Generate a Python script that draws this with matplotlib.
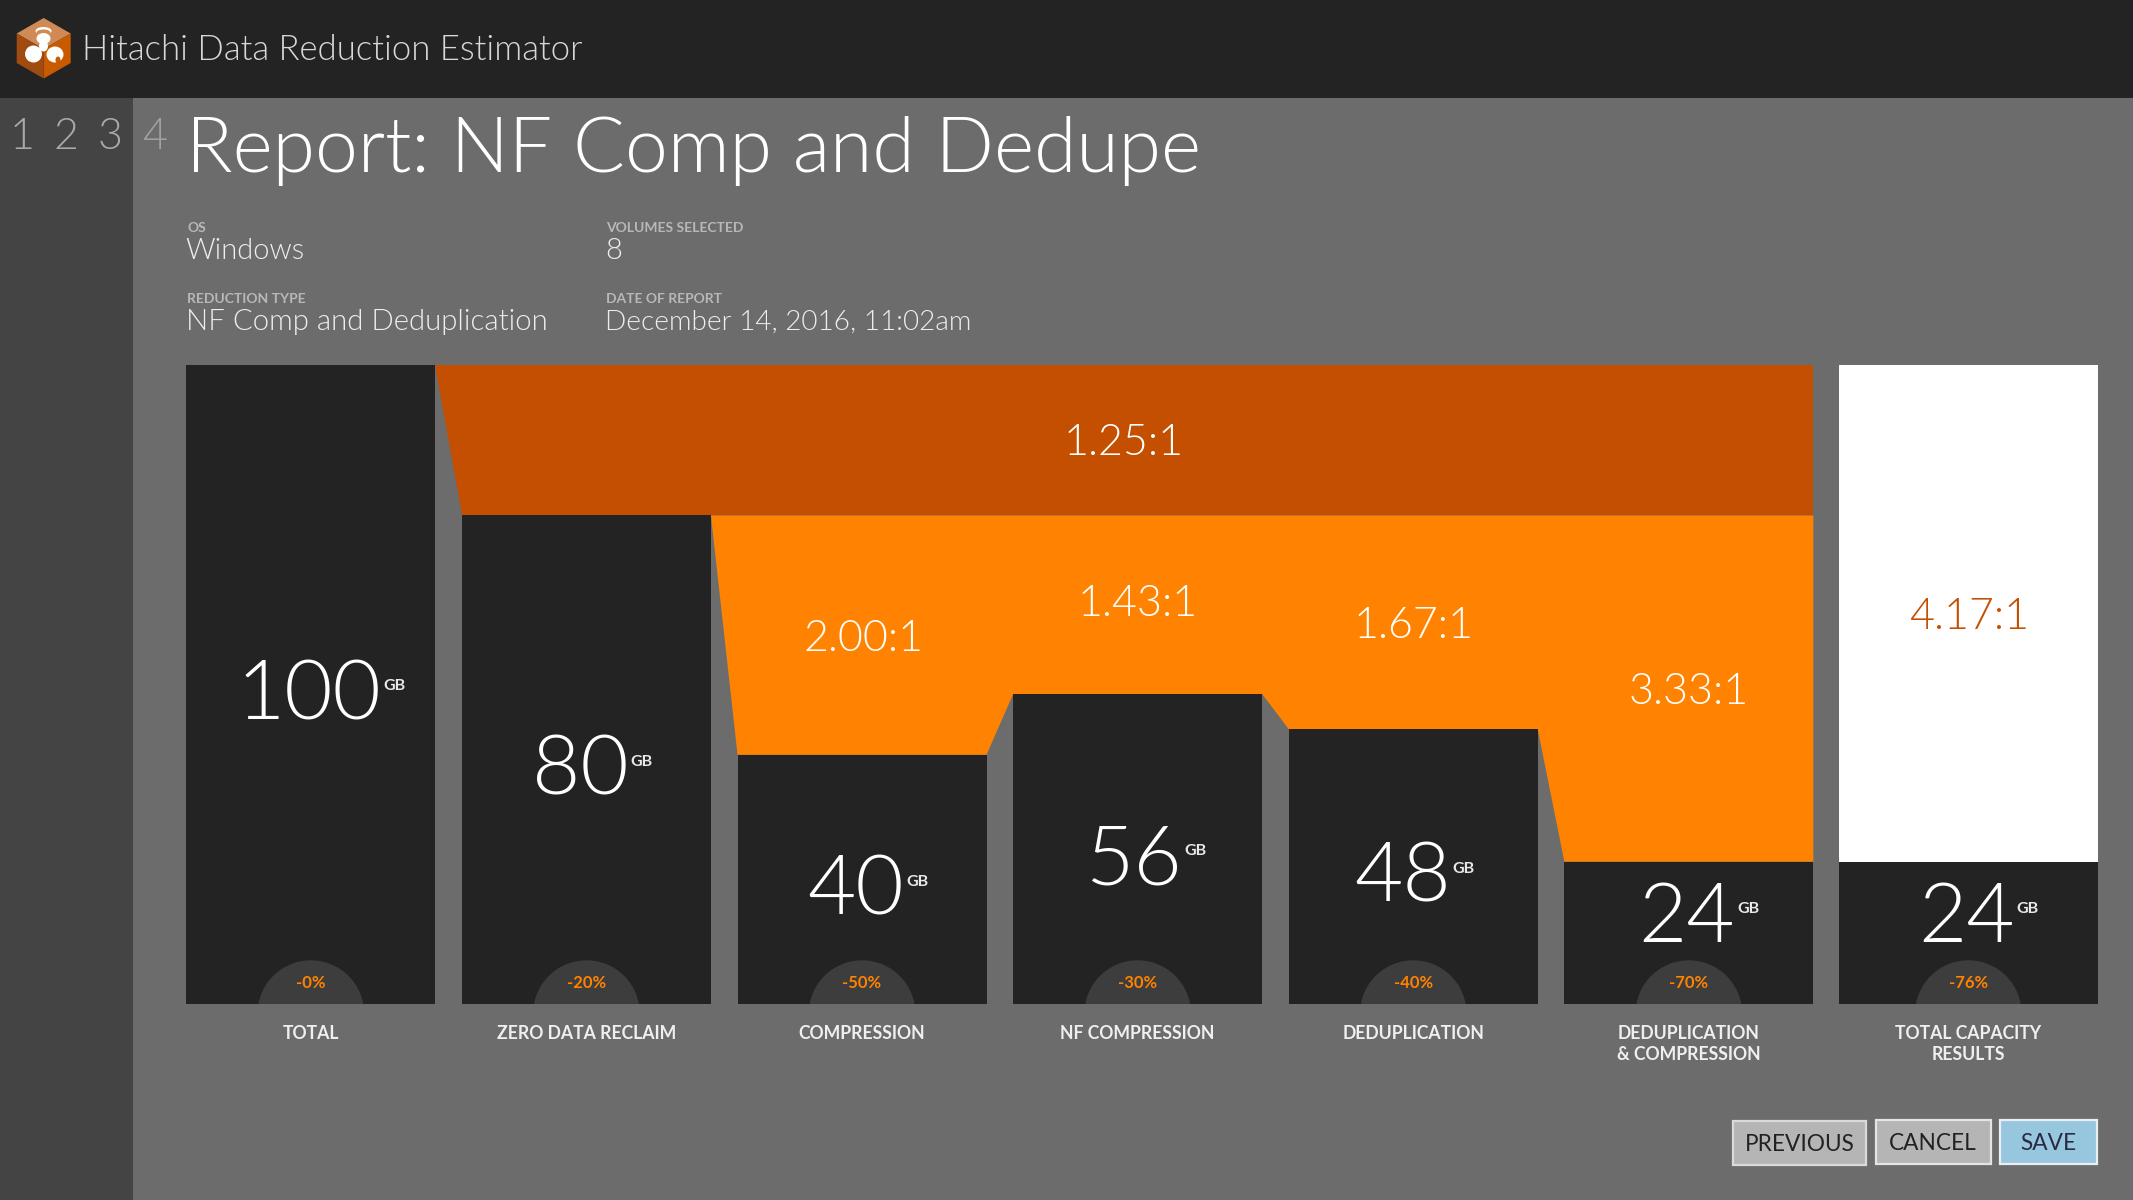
import numpy as np
import matplotlib
matplotlib.use("Agg")
import matplotlib.pyplot as plt
from matplotlib.patches import Rectangle, Polygon, Circle, Ellipse

# ---- data ----
categories = ["TOTAL", "ZERO DATA RECLAIM", "COMPRESSION", "NF COMPRESSION", "DEDUPLICATION",
              "DEDUPLICATION\n& COMPRESSION", "TOTAL CAPACITY\nRESULTS"]
capacity_gb = ["100", "80", "40", "56", "48", "24", "24"]
drawn_height = [100, 76.4, 39.0, 48.5, 43.0, 22.3, 22.3]
reduction_pct = ["-0%", "-20%", "-50%", "-30%", "-40%", "-70%", "-76%"]
ratio_top = "1.25:1"
ratio_step = ["2.00:1", "1.43:1", "1.67:1", "3.33:1"]
ratio_total = "4.17:1"
step_numbers = ["1", "2", "3", "4"]
meta_labels = ["OS", "VOLUMES SELECTED", "REDUCTION TYPE", "DATE OF REPORT"]
meta_values = ["Windows", "8", "NF Comp and Deduplication", "December 14, 2016, 11:02am"]
button_labels = ["PREVIOUS", "CANCEL", "SAVE"]

# ---- style ----
FONT = "Lato"
BG, SIDE, HEAD = "#6C6C6C", "#444444", "#232323"
DARK_OR, OR = "#C44F00", "#FF8300"
DOME = "#3D3D3D"
W, H = 2133, 1200

plt.rcParams['font.family'] = [FONT, 'DejaVu Sans']
fig = plt.figure(figsize=(W/100, H/100), dpi=100, facecolor=BG)

def frac(l, t, r, b):
    return [l/W, 1-b/H, (r-l)/W, (b-t)/H]

bg = fig.add_axes([0, 0, 1, 1], zorder=0)
bg.set_xlim(0, W); bg.set_ylim(H, 0); bg.axis('off')
bg.add_patch(Rectangle((0, 0), W, 97.5, fc=HEAD, ec='none'))
bg.add_patch(Rectangle((0, 97.5), 133, H, fc=SIDE, ec='none'))

# chart axes
L, R, T, B = 186.4, 2097.6, 364.5, 1004.3
pitch = 275.6
c0 = 310.85
ax = fig.add_axes(frac(L, T, R, B), zorder=1)
ax.set_xlim((L-c0)/pitch, (R-c0)/pitch)
ax.set_ylim(0, 100)
ax.axis('off')
ax.patch.set_alpha(0)
xs = np.arange(6, dtype=float)
bw = 249/pitch
hs = np.array(drawn_height[:6])
ax.bar(xs, hs, width=bw, color=HEAD, zorder=3)
xlast = (1968.35-c0)/pitch
wlast = 258.5/pitch
ax.bar([xlast], [drawn_height[6]], width=wlast, color=HEAD, zorder=3)
ax.bar([xlast], [100-drawn_height[6]], bottom=[drawn_height[6]], width=wlast, color='white', zorder=3)
right = xs[5]+bw/2
# dark ribbon: drop from total to the first step
ax.add_patch(Polygon([(xs[0]+bw/2, hs[0]), (right, hs[0]), (right, hs[1]), (xs[1]-bw/2, hs[1])],
                     closed=True, fc=DARK_OR, ec='none', zorder=2))
# bright ribbon follows the tops of the four reduced bars
pts = [(xs[1]+bw/2, hs[1]), (right, hs[1])]
for i in range(5, 1, -1):
    pts += [(xs[i]+bw/2, hs[i]), (xs[i]-bw/2, hs[i])]
ax.add_patch(Polygon(pts, closed=True, fc=OR, ec='none', zorder=2))

# overlay in pixels
ui = fig.add_axes([0, 0, 1, 1], zorder=2)
ui.set_xlim(0, W); ui.set_ylim(H, 0); ui.axis('off'); ui.patch.set_alpha(0)

def T_(x, y, s, size, color='white', ha='left', weight=300, **kw):
    return ui.text(x, y, s, fontsize=size, color=color, ha=ha, va='baseline',
                   fontweight=weight, family=[FONT, 'DejaVu Sans'], **kw)

# logo
TAN = "#CF8A55"
ui.add_patch(Polygon([(43.7,18),(70.7,33.5),(43.7,49),(16.7,33.5)], fc=TAN, ec='none'))
ui.add_patch(Polygon([(70.7,33.5),(70.7,63),(43.7,78.5),(43.7,49)], fc="#C85A00", ec='none'))
ui.add_patch(Polygon([(16.7,33.5),(43.7,49),(43.7,78.5),(16.7,63)], fc="#A04C10", ec='none'))
ui.add_patch(Ellipse((43.5,31),16,8,fc='white',ec='none'))
ui.add_patch(Ellipse((43.5,32.5),14,6,fc=TAN,ec='none'))
ui.add_patch(Ellipse((43.5,38.5),14,11,fc='white',ec='none'))
ui.add_patch(Ellipse((43.5,46),9,11,fc='white',ec='none'))
ui.add_patch(Ellipse((33.5,54),17,17,fc='white',ec='none'))
ui.add_patch(Ellipse((55,54.5),17,16,fc='white',ec='none'))
ui.add_patch(Ellipse((58,60),5,7,fc="#C85A00",ec='none'))

T_(82, 59.5, "Hitachi Data Reduction Estimator", 25, color="#D8D8D8")
for x, s, c in zip([22, 65.5, 110, 155], step_numbers, ["#A9A9A9"]*3+["#A0A0A0"]):
    T_(x, 149, s, 31, color=c, ha='center')
T_(185.5, 172, "Report: NF Comp and Dedupe", 55.4, color='white')

for (x, y), s in zip([(187, 232), (606, 232), (187, 303), (606, 303)], meta_labels):
    T_(x, y, s, 10, color="#B8B8B8", weight=700)
for (x, y), s, fs in zip([(185.5, 259), (605, 259), (186, 330), (605, 330)], meta_values, [21, 21, 21.2, 20.2]):
    T_(x, y, s, fs, color="#EEEEEE")

centers = [c0+pitch*i for i in range(6)] + [1968.35]
num_dx = [0, -4, -4, -2, -9, 0, 0]
num_mid = [None, None, None, None, None, 912, 912]
rend = fig.canvas.get_renderer()
inv = ui.transData.inverted()
for i, (cxx, h, num, pct, cat) in enumerate(zip(centers, drawn_height, capacity_gb, reduction_pct, categories)):
    top = B-h*(B-T)/100
    mid = (top+B)/2+5 if num_mid[i] is None else num_mid[i]
    t = T_(cxx-2+num_dx[i], mid+30, num, 60, ha='center')
    bb = t.get_window_extent(rend)
    xr = inv.transform((bb.x1, 0))[0]
    T_(xr+2, mid+1, "GB", 11.5, color="#E8E8E8", weight=700)
    d = Circle((cxx, B+9.3), 53.3, fc=DOME, ec='none')
    ui.add_patch(d)
    d.set_clip_path(Rectangle((cxx-60, B-50), 120, 50, transform=ui.transData))
    T_(cxx, 988, pct, 12, color=OR, ha='center', weight=700)
    for j, line in enumerate(cat.split("\n")):
        T_(cxx, 1039+21.5*j, line, 12.7, color="#EFEFEF", ha='center', weight=700)

T_(1124, 455, ratio_top, 31, ha='center')
for (x, y), s in zip([(862.4, 635), (1137, 600), (1413, 622), (1688, 688)], ratio_step):
    T_(x+1, y+16, s, 31, ha='center')
T_(1969, 629, ratio_total, 31, color=DARK_OR, ha='center')

# buttons
boxes = [(1733, 1121, 1866, 1164.7), (1875.5, 1120, 1990.5, 1164), (2000, 1120, 2097, 1164)]
fills = ["#B5B5B5", "#B5B5B5", "#97C6DF"]
edges = ["#DADADA", "#E4E4E4", "#E8F0F4"]
tcs = ["#222222", "#222222", "#2A2A40"]
for (l, t, r, b), f, e, tc, s in zip(boxes, fills, edges, tcs, button_labels):
    ui.add_patch(Rectangle((l, t), r-l, b-t, fc=f, ec=e, lw=1.6))
    T_((l+r)/2, (t+b)/2+8, s, 16.3, color=tc, ha='center', weight=400)

fig.savefig("out.png", dpi=100, facecolor=BG)
